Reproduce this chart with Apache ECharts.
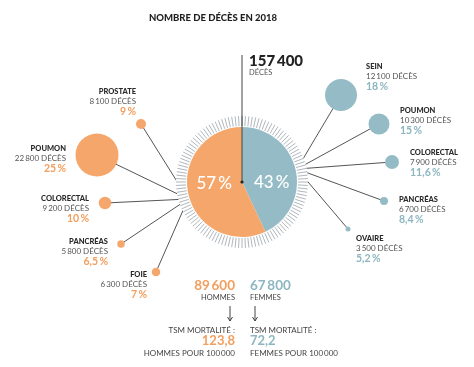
<!DOCTYPE html>
<html><head><meta charset="utf-8">
<script src="https://cdn.jsdelivr.net/npm/echarts@6/dist/echarts.min.js"></script>
<style>html,body{margin:0;padding:0;background:#fff}#c{width:474px;height:367px}</style>
</head><body><div id="c"></div>
<script>
// ---- DATA ----
const title = 'NOMBRE DE DÉCÈS EN 2018';
const totalDeaths = 157400;
const sexLabels = ['HOMMES', 'FEMMES'];
const sexDeaths = [89600, 67800];
const sexShare = [57, 43];
const tsm = [123.8, 72.2];
const menNames = ['PROSTATE', 'POUMON', 'COLORECTAL', 'PANCRÉAS', 'FOIE'];
const menDeaths = [8100, 22800, 9200, 5800, 6300];
const menPct = [9, 25, 10, 6.5, 7];
const womenNames = ['SEIN', 'POUMON', 'COLORECTAL', 'PANCRÉAS', 'OVAIRE'];
const womenDeaths = [12100, 10300, 7900, 6700, 3500];
const womenPct = [18, 15, 11.6, 8.4, 5.2];

// ---- LAYOUT (pixels: bubble centre, diameter, label anchor) ----
const menLayout = [
  {x:141, y:124, d:10, lx:136, ly:92},
  {x:97,  y:155, d:43, lx:66,  ly:149},
  {x:105, y:203, d:12.5, lx:89, ly:199},
  {x:121, y:244, d:7.5, lx:108, ly:242},
  {x:156, y:272, d:8.5, lx:147, ly:275}
];
const womenLayout = [
  {x:341, y:95,  d:32, lx:366, ly:67},
  {x:379, y:124, d:21, lx:400, ly:111},
  {x:392, y:162, d:14, lx:410, ly:153},
  {x:384, y:201, d:8,  lx:399, ly:200},
  {x:348, y:229, d:5,  lx:356, ly:239}
];
const C = [242, 182];
const focusL = [188, 199], focusR = [297, 169];

const ORANGE = '#F5A66B', BLUE = '#95BCC6';
const ORANGE_T = '#F29E5E', BLUE_T = '#8DB6C1';
const FONT = 'Lato, "Open Sans", sans-serif';
const SP = '\u2009';

const fmt = n => String(n).replace(/\B(?=(\d{3})+(?!\d))/g, SP);
const fpct = p => String(p).replace('.', ',') + SP + '%';

const chart = echarts.init(document.getElementById('c'), null, {renderer: 'canvas'});

const scatterData = [], lineData = [], graphic = [];
function addGroup(names, deaths, pct, layout, color, colorT, focus, align) {
  names.forEach((n, i) => {
    const L = layout[i];
    scatterData.push({value: [L.x, L.y, deaths[i]], name: n, symbolSize: L.d, itemStyle: {color: color, opacity: 1}});
    lineData.push({coords: [[L.x, L.y], focus]});
    graphic.push({type:'text', z:10, style:{text:n, x:L.lx, y:L.ly, textAlign:align, textVerticalAlign:'middle', font:'900 7.5px ' + FONT, fill:'#2a2a2a'}});
    graphic.push({type:'text', z:10, style:{text:fmt(deaths[i]) + ' DÉCÈS', x:L.lx, y:L.ly + 9.7, textAlign:align, textVerticalAlign:'middle', font:'8px ' + FONT, fill:'#555'}});
    graphic.push({type:'text', z:10, style:{text:fpct(pct[i]), x:L.lx, y:L.ly + 19.5, textAlign:align, textVerticalAlign:'middle', font:'bold 10.5px ' + FONT, fill:colorT}});
  });
}
addGroup(menNames, menDeaths, menPct, menLayout, ORANGE, ORANGE_T, focusL, 'right');
addGroup(womenNames, womenDeaths, womenPct, womenLayout, BLUE, BLUE_T, focusR, 'left');

// title & totals
graphic.push({type:'text', z:10, style:{text:title, x:213, y:18, textAlign:'center', textVerticalAlign:'middle', font:'900 9.5px ' + FONT, fill:'#1e1e1e'}});
graphic.push({type:'line', z:10, shape:{x1:C[0], y1:55, x2:C[0], y2:C[1]}, style:{stroke:'#444', lineWidth:1}});
graphic.push({type:'circle', z:11, shape:{cx:C[0], cy:C[1], r:1.6}, style:{fill:'#222'}});
graphic.push({type:'text', z:10, style:{text:fmt(totalDeaths), x:249, y:61, textAlign:'left', textVerticalAlign:'middle', font:'900 15px ' + FONT, fill:'#222'}});
graphic.push({type:'text', z:10, style:{text:'DÉCÈS', x:249, y:73, textAlign:'left', textVerticalAlign:'middle', font:'7.5px ' + FONT, fill:'#555'}});

// bottom block
const sides = [
  {x:235, ax:230, align:'right', col:ORANGE_T},
  {x:250, ax:255, align:'left', col:BLUE_T}
];
sides.forEach((s, i) => {
  graphic.push({type:'text', z:10, style:{text:fmt(sexDeaths[i]), x:s.x, y:286, textAlign:s.align, textVerticalAlign:'middle', font:'bold 13.5px ' + FONT, fill:s.col}});
  graphic.push({type:'text', z:10, style:{text:sexLabels[i], x:s.x, y:298, textAlign:s.align, textVerticalAlign:'middle', font:'7.5px ' + FONT, fill:'#444'}});
  graphic.push({type:'line', z:10, shape:{x1:s.ax, y1:306, x2:s.ax, y2:321}, style:{stroke:'#444', lineWidth:1}});
  graphic.push({type:'polyline', z:10, shape:{points:[[s.ax-2.5, 317], [s.ax, 321], [s.ax+2.5, 317]]}, style:{stroke:'#444', lineWidth:1, fill:null}});
  graphic.push({type:'text', z:10, style:{text:'TSM MORTALITÉ\u00A0:', x:s.x, y:330, textAlign:s.align, textVerticalAlign:'middle', font:'8px ' + FONT, fill:'#444'}});
  graphic.push({type:'text', z:10, style:{text:String(tsm[i]).replace('.', ','), x:s.x, y:341, textAlign:s.align, textVerticalAlign:'middle', font:'bold 13px ' + FONT, fill:s.col}});
  graphic.push({type:'text', z:10, style:{text:sexLabels[i] + ' POUR ' + fmt(100000), x:s.x, y:353, textAlign:s.align, textVerticalAlign:'middle', font:'8px ' + FONT, fill:'#444'}});
});

const option = {
  animation: false,
  backgroundColor: '#fff',
  grid: {left:0, right:0, top:0, bottom:0},
  xAxis: {type:'value', min:0, max:474, show:false},
  yAxis: {type:'value', min:0, max:367, inverse:true, show:false},
  series: [
    {type:'lines', coordinateSystem:'cartesian2d', z:1, silent:true,
     lineStyle:{color:'#555', width:1, opacity:1}, data: lineData},
    {type:'pie', center:C, radius:[54, 66], z:2, silent:true, label:{show:false}, labelLine:{show:false},
     itemStyle:{color:'#fff'}, data:[{value:1}]},
    {type:'gauge', center:C, radius:66, startAngle:90, endAngle:-270, min:0, max:1, splitNumber:120, z:3,
     axisLine:{show:true, lineStyle:{width:0}}, progress:{show:false}, pointer:{show:false}, anchor:{show:false},
     axisTick:{show:false}, axisLabel:{show:false}, detail:{show:false}, title:{show:false},
     splitLine:{show:true, length:10, distance:0, lineStyle:{color:'#9ba3a9', width:0.8}}, data:[]},
    {type:'pie', center:C, radius:[0, 55], z:4, startAngle:90, clockwise:true, silent:true,
     label:{show:true, position:'inside', color:'#fff', fontFamily:FONT, fontSize:17, fontWeight:500,
            formatter: p => p.value + SP + '%'},
     labelLine:{show:false},
     data:[
       {value:sexShare[1], name:sexLabels[1], itemStyle:{color:BLUE}, label:{offset:[0, 7]}},
       {value:sexShare[0], name:sexLabels[0], itemStyle:{color:ORANGE}, label:{offset:[2, -5]}}
     ]},
    {type:'scatter', z:5, silent:true, itemStyle:{opacity:1}, data: scatterData}
  ],
  graphic: graphic
};
chart.setOption(option);
</script></body></html>
